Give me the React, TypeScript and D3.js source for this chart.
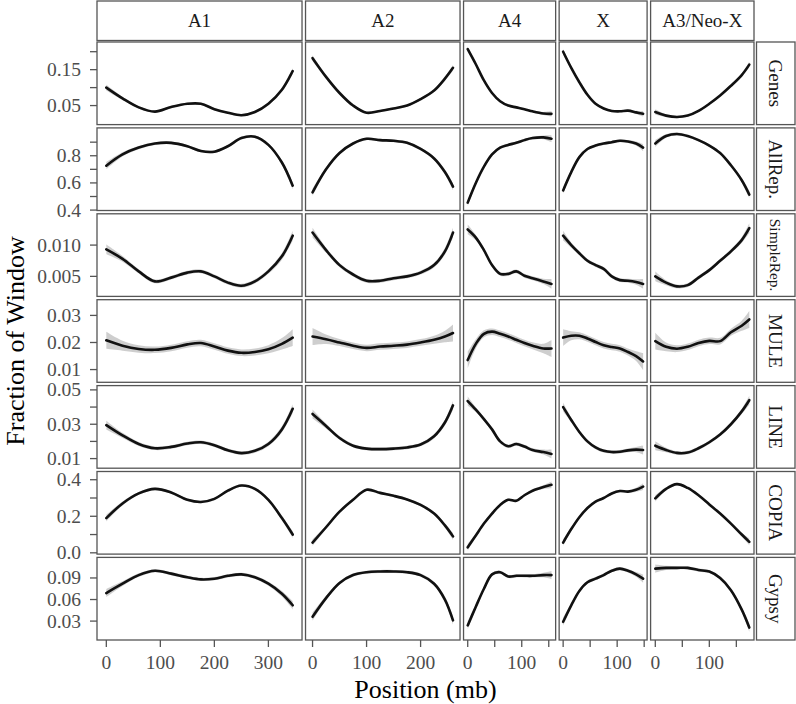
import React from 'react';
import * as d3 from 'd3';

// ---- categories ----
const chromosomes = ['A1', 'A2', 'A4', 'X', 'A3/Neo-X'];
const features = ['Genes', 'AllRep.', 'SimpleRep.', 'MULE', 'LINE', 'COPIA', 'Gypsy'];

// ---- sample positions (mb) for each chromosome ----
const posA1 = [0, 30, 60, 90, 120, 150, 175, 200, 225, 250, 275, 300, 325, 345];
const posA2 = [0, 25, 50, 75, 100, 125, 150, 175, 200, 225, 245, 260];
const posA4 = [0, 15, 30, 45, 60, 75, 90, 105, 120, 140, 155];
const posX = [0, 15, 30, 45, 60, 75, 90, 105, 120, 135, 148];
const posA3 = [0, 20, 40, 60, 80, 100, 120, 140, 160, 174];

// ---- smoothed fractions ----
const genesA1 = [0.1, 0.07, 0.045, 0.033, 0.046, 0.055, 0.055, 0.04, 0.03, 0.023, 0.032, 0.055, 0.094, 0.146];
const genesA2 = [0.182, 0.13, 0.085, 0.05, 0.03, 0.035, 0.042, 0.05, 0.068, 0.092, 0.125, 0.155];
const genesA4 = [0.207, 0.165, 0.12, 0.085, 0.062, 0.05, 0.045, 0.04, 0.034, 0.028, 0.027];
const genesX = [0.2, 0.155, 0.115, 0.08, 0.055, 0.042, 0.035, 0.034, 0.036, 0.031, 0.027];
const genesA3 = [0.032, 0.022, 0.018, 0.022, 0.035, 0.055, 0.078, 0.105, 0.135, 0.164];

const allRepA1 = [0.727, 0.81, 0.86, 0.89, 0.895, 0.87, 0.835, 0.83, 0.87, 0.93, 0.94, 0.88, 0.75, 0.58];
const allRepA2 = [0.53, 0.7, 0.82, 0.89, 0.925, 0.915, 0.91, 0.895, 0.85, 0.78, 0.68, 0.573];
const allRepA4 = [0.455, 0.6, 0.72, 0.81, 0.86, 0.88, 0.895, 0.915, 0.93, 0.935, 0.925];
const allRepX = [0.545, 0.68, 0.79, 0.85, 0.875, 0.89, 0.9, 0.91, 0.905, 0.89, 0.86];
const allRepA3 = [0.89, 0.945, 0.96, 0.945, 0.915, 0.875, 0.82, 0.73, 0.62, 0.514];

const simpleA1 = [0.0093, 0.0078, 0.0058, 0.0042, 0.0048, 0.0056, 0.0058, 0.005, 0.004, 0.0035, 0.0042, 0.0058, 0.0082, 0.0115];
const simpleA2 = [0.012, 0.0092, 0.0068, 0.0053, 0.0043, 0.0043, 0.0047, 0.005, 0.0056, 0.0068, 0.009, 0.012];
const simpleA4 = [0.0125, 0.0112, 0.0092, 0.0068, 0.0054, 0.0054, 0.0058, 0.0051, 0.0047, 0.0042, 0.0038];
const simpleX = [0.0115, 0.01, 0.0087, 0.0075, 0.0068, 0.0062, 0.005, 0.0044, 0.0043, 0.0041, 0.0038];
const simpleA3 = [0.005, 0.004, 0.0034, 0.0036, 0.0048, 0.006, 0.0075, 0.009, 0.0108, 0.0127];

const muleA1 = [0.0208, 0.0188, 0.0176, 0.0173, 0.018, 0.0193, 0.0198, 0.0185, 0.017, 0.0162, 0.0165, 0.0175, 0.0195, 0.0218];
const muleA2 = [0.0222, 0.0212, 0.02, 0.0188, 0.018, 0.0185, 0.0188, 0.0192, 0.02, 0.021, 0.0222, 0.0235];
const muleA4 = [0.0135, 0.0195, 0.0232, 0.024, 0.0232, 0.0222, 0.021, 0.0198, 0.0188, 0.0178, 0.0178];
const muleX = [0.0218, 0.0225, 0.0225, 0.0215, 0.0202, 0.019, 0.0183, 0.0178, 0.0165, 0.015, 0.013];
const muleA3 = [0.0205, 0.0184, 0.0177, 0.0184, 0.0198, 0.0206, 0.0205, 0.0238, 0.0262, 0.0285];

const lineA1 = [0.0295, 0.0235, 0.0185, 0.016, 0.0168, 0.0188, 0.0195, 0.0178, 0.0148, 0.0132, 0.0145, 0.0185, 0.027, 0.039];
const lineA2 = [0.036, 0.029, 0.022, 0.0175, 0.0158, 0.0155, 0.0158, 0.0165, 0.0182, 0.023, 0.031, 0.041];
const lineA4 = [0.0435, 0.0385, 0.033, 0.027, 0.02, 0.0172, 0.0185, 0.017, 0.015, 0.0138, 0.0127];
const lineX = [0.04, 0.0325, 0.0255, 0.02, 0.0165, 0.0145, 0.0138, 0.014, 0.0148, 0.0152, 0.015];
const lineA3 = [0.0175, 0.015, 0.0133, 0.0135, 0.016, 0.0195, 0.024, 0.03, 0.0375, 0.044];

const copiaA1 = [0.19, 0.27, 0.325, 0.35, 0.33, 0.29, 0.278, 0.295, 0.34, 0.368, 0.35, 0.29, 0.19, 0.1];
const copiaA2 = [0.056, 0.14, 0.225, 0.29, 0.345, 0.328, 0.312, 0.292, 0.262, 0.215, 0.15, 0.09];
const copiaA4 = [0.03, 0.095, 0.16, 0.215, 0.262, 0.29, 0.285, 0.315, 0.34, 0.36, 0.372];
const copiaX = [0.056, 0.13, 0.195, 0.245, 0.28, 0.3, 0.325, 0.338, 0.335, 0.345, 0.362];
const copiaA3 = [0.298, 0.35, 0.376, 0.355, 0.315, 0.265, 0.215, 0.16, 0.1, 0.06];

const gypsyA1 = [0.069, 0.082, 0.094, 0.1, 0.096, 0.091, 0.088, 0.089, 0.093, 0.095, 0.091, 0.082, 0.068, 0.052];
const gypsyA2 = [0.036, 0.062, 0.083, 0.094, 0.098, 0.099, 0.099, 0.098, 0.094, 0.082, 0.06, 0.031];
const gypsyA4 = [0.024, 0.05, 0.075, 0.095, 0.098, 0.092, 0.093, 0.093, 0.093, 0.094, 0.094];
const gypsyX = [0.029, 0.052, 0.072, 0.084, 0.089, 0.094, 0.1, 0.103, 0.1, 0.095, 0.089];
const gypsyA3 = [0.103, 0.104, 0.104, 0.104, 0.101, 0.099, 0.09, 0.073, 0.046, 0.021];

// standard error (ribbon half-width) per feature
const ribbonSE = [0.003, 0.01, 0.0003, 0.0012, 0.001, 0.007, 0.0022];

// ---- axes ----
const yDomains = [
  [-0.003, 0.227],
  [0.397, 1.005],
  [0.0018, 0.015],
  [0.0053, 0.0358],
  [0.0044, 0.0525],
  [-0.007, 0.445],
  [0.0037, 0.1186],
];
const yTicks = [
  [0.05, 0.1, 0.15, 0.2],
  [0.4, 0.5, 0.6, 0.7, 0.8, 0.9],
  [0.005, 0.01],
  [0.01, 0.02, 0.03],
  [0.01, 0.02, 0.03, 0.04, 0.05],
  [0, 0.1, 0.2, 0.3, 0.4],
  [0.03, 0.06, 0.09],
];
const yTickLabels = [
  ['0.05', '', '0.15', ''],
  ['0.4', '', '0.6', '', '0.8', ''],
  ['0.005', '0.010'],
  ['0.01', '0.02', '0.03'],
  ['0.01', '', '0.03', '', '0.05'],
  ['0.0', '', '0.2', '', '0.4'],
  ['0.03', '0.06', '0.09'],
];
const xTicks = [
  [0, 100, 200, 300],
  [0, 100, 200],
  [0, 50, 100, 150],
  [0, 50, 100, 150],
  [0, 50, 100, 150],
];
const xTickLabels = [
  ['0', '100', '200', '300'],
  ['0', '100', '200'],
  ['0', '', '100', ''],
  ['0', '', '100', ''],
  ['0', '', '100', ''],
];

const positions = [posA1, posA2, posA4, posX, posA3];
const values = [
  [genesA1, genesA2, genesA4, genesX, genesA3],
  [allRepA1, allRepA2, allRepA4, allRepX, allRepA3],
  [simpleA1, simpleA2, simpleA4, simpleX, simpleA3],
  [muleA1, muleA2, muleA4, muleX, muleA3],
  [lineA1, lineA2, lineA4, lineX, lineA3],
  [copiaA1, copiaA2, copiaA4, copiaX, copiaA3],
  [gypsyA1, gypsyA2, gypsyA4, gypsyX, gypsyA3],
];

const FONT = '"Liberation Serif", "Times New Roman", Times, serif';
const BORDER = '#555555';
const TICKTXT = '#4d4d4d';

export default function App() {
  const W = 796, H = 704;
  const left = 97, right = 754, gapX = 3.5;
  const top = 42, bottom = 640, gapY = 3.3;
  const lens = positions.map((p) => p[p.length - 1]);
  const total = d3.sum(lens);
  const avail = right - left - gapX * (lens.length - 1);
  let acc = left;
  const cols = lens.map((L) => {
    const w = (avail * L) / total;
    const c = { x0: acc, x1: acc + w };
    acc += w + gapX;
    return c;
  });
  const rowH = (bottom - top - gapY * (features.length - 1)) / features.length;
  const rows = features.map((_, i) => ({ y0: top + i * (rowH + gapY), y1: top + i * (rowH + gapY) + rowH }));

  const xScales = cols.map((c, j) =>
    d3.scaleLinear().domain([-0.05 * lens[j], 1.05 * lens[j]]).range([c.x0, c.x1])
  );
  const yScales = rows.map((r, i) => d3.scaleLinear().domain(yDomains[i]).range([r.y1, r.y0]));

  const stripTop = 1, stripBot = 40.5;
  const rsX0 = 756.5, rsX1 = 795;

  const panels: any[] = [];
  features.forEach((f, i) => {
    chromosomes.forEach((c, j) => {
      const xs = positions[j];
      const ys = values[i][j];
      const L = lens[j];
      const pts = xs.map((x, k) => {
        const t = x / L;
        const hw = ribbonSE[i] * (1 + 1.6 * Math.pow(2 * t - 1, 6));
        return { x, y: ys[k], lo: ys[k] - hw, hi: ys[k] + hw };
      });
      const xs_ = xScales[j];
      const ys_ = yScales[i];
      const curve = d3.curveCatmullRom.alpha(0.5);
      const line = d3.line<any>().x((d) => xs_(d.x)).y((d) => ys_(d.y)).curve(curve);
      const area = d3
        .area<any>()
        .x((d) => xs_(d.x))
        .y0((d) => ys_(d.lo))
        .y1((d) => ys_(d.hi))
        .curve(curve);
      const id = `clip-${i}-${j}`;
      panels.push(
        <g key={id}>
          <clipPath id={id}>
            <rect x={cols[j].x0} y={rows[i].y0} width={cols[j].x1 - cols[j].x0} height={rowH} />
          </clipPath>
          <rect x={cols[j].x0} y={rows[i].y0} width={cols[j].x1 - cols[j].x0} height={rowH} fill="#ffffff" />
          <g clipPath={`url(#${id})`}>
            <path d={area(pts) || ''} fill="#c6c6c6" opacity={0.85} />
            <path d={line(pts) || ''} fill="none" stroke="#111111" strokeWidth={2.6} strokeLinecap="round" />
          </g>
          <rect
            x={cols[j].x0}
            y={rows[i].y0}
            width={cols[j].x1 - cols[j].x0}
            height={rowH}
            fill="none"
            stroke={BORDER}
            strokeWidth={1.3}
          />
        </g>
      );
    });
  });

  return (
    <svg
      width={W}
      height={H}
      viewBox={`0 0 ${W} ${H}`}
      style={{ position: 'absolute', left: 0, top: 0, background: '#fff' }}
      fontFamily={FONT}
    >
      <rect x={0} y={0} width={W} height={H} fill="#ffffff" />
      {/* top strips */}
      {chromosomes.map((c, j) => (
        <g key={`ts-${j}`}>
          <rect
            x={cols[j].x0}
            y={stripTop}
            width={cols[j].x1 - cols[j].x0}
            height={stripBot - stripTop}
            fill="#ffffff"
            stroke={BORDER}
            strokeWidth={1.3}
          />
          <text
            x={(cols[j].x0 + cols[j].x1) / 2}
            y={(stripTop + stripBot) / 2}
            textAnchor="middle"
            dominantBaseline="central"
            fontSize={19}
            fill="#1a1a1a"
          >
            {c}
          </text>
        </g>
      ))}
      {/* right strips */}
      {features.map((f, i) => {
        const cy = (rows[i].y0 + rows[i].y1) / 2;
        const cx = (rsX0 + rsX1) / 2;
        return (
          <g key={`rs-${i}`}>
            <rect
              x={rsX0}
              y={rows[i].y0}
              width={rsX1 - rsX0}
              height={rowH}
              fill="#ffffff"
              stroke={BORDER}
              strokeWidth={1.3}
            />
            <text
              transform={`translate(${cx},${cy}) rotate(90)`}
              textAnchor="middle"
              dominantBaseline="central"
              fontSize={f === 'SimpleRep.' ? 15.5 : 19}
              fill="#1a1a1a"
            >
              {f}
            </text>
          </g>
        );
      })}
      {panels}
      {/* y axes */}
      {features.map((f, i) => (
        <g key={`ya-${i}`}>
          {yTicks[i].map((t, k) => {
            const y = yScales[i](t);
            return (
              <g key={k}>
                <line x1={left - 7} x2={left} y1={y} y2={y} stroke={BORDER} strokeWidth={1.3} />
                {yTickLabels[i][k] ? (
                  <text
                    x={left - 16}
                    y={y}
                    textAnchor="end"
                    dominantBaseline="central"
                    fontSize={19.5}
                    fill={TICKTXT}
                  >
                    {yTickLabels[i][k]}
                  </text>
                ) : null}
              </g>
            );
          })}
        </g>
      ))}
      {/* x axes */}
      {chromosomes.map((c, j) => (
        <g key={`xa-${j}`}>
          {xTicks[j].map((t, k) => {
            const x = xScales[j](t);
            return (
              <g key={k}>
                <line x1={x} x2={x} y1={bottom} y2={bottom + 7} stroke={BORDER} strokeWidth={1.3} />
                {xTickLabels[j][k] ? (
                  <text x={x} y={bottom + 22} textAnchor="middle" dominantBaseline="central" fontSize={19.5} fill={TICKTXT}>
                    {xTickLabels[j][k]}
                  </text>
                ) : null}
              </g>
            );
          })}
        </g>
      ))}
      {/* axis titles */}
      <text x={(left + right) / 2} y={698} textAnchor="middle" fontSize={26} fill="#000">
        Position (mb)
      </text>
      <text
        transform={`translate(24,${(top + bottom) / 2}) rotate(-90)`}
        textAnchor="middle"
        fontSize={26}
        fill="#000"
      >
        Fraction of Window
      </text>
    </svg>
  );
}
